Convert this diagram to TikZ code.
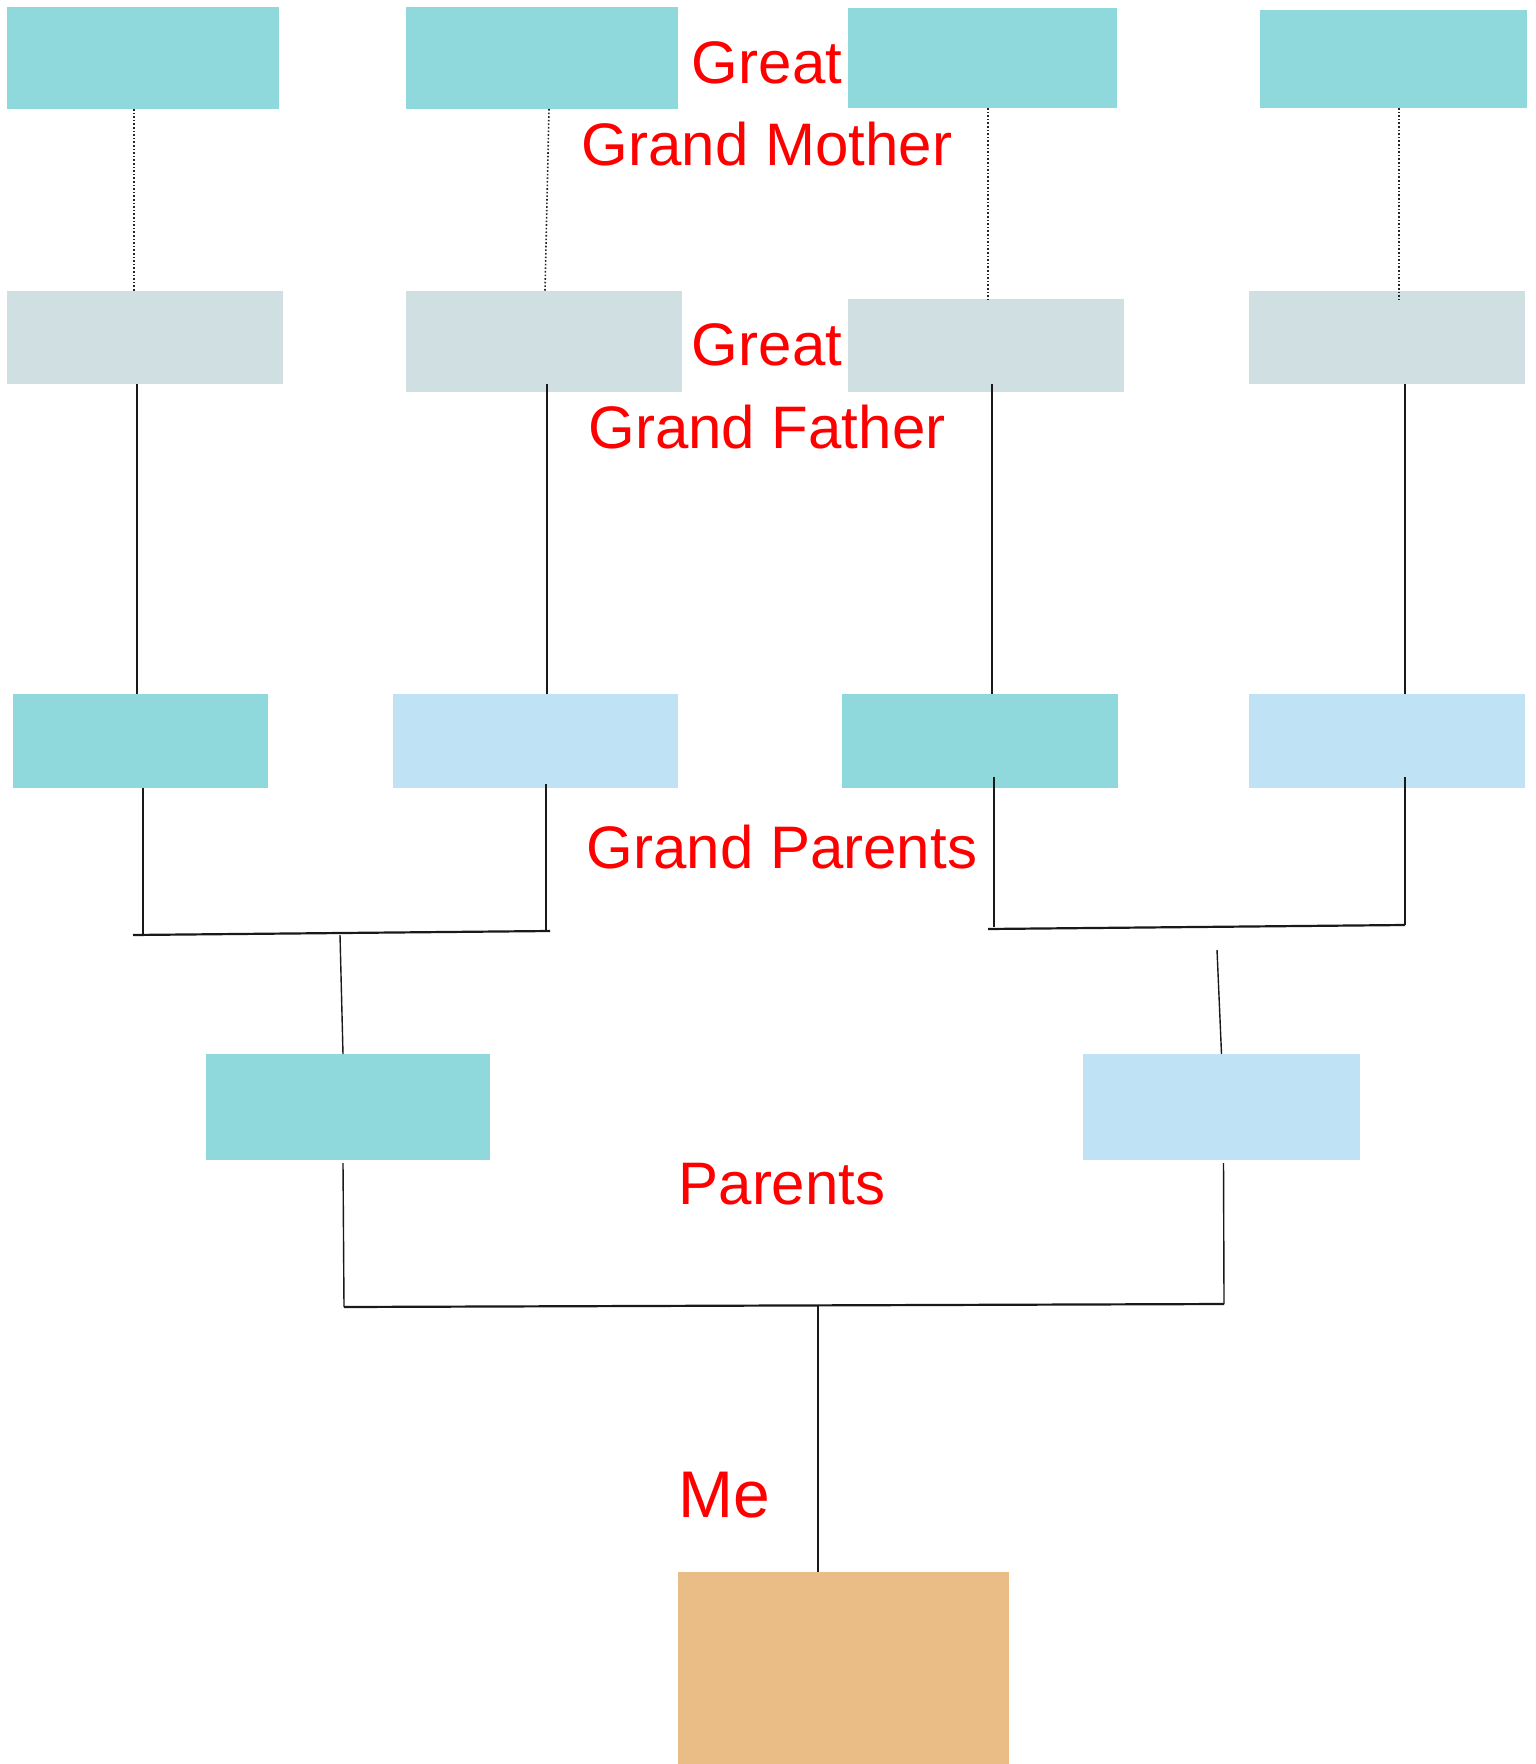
\documentclass[tikz,border=0pt]{standalone}
\usepackage{fontspec}
\setmainfont{Liberation Sans}
\definecolor{aquafill}{RGB}{143,217,220}
\definecolor{mistfill}{RGB}{208,223,226}
\definecolor{skyfill}{RGB}{191,227,245}
\definecolor{sandfill}{RGB}{234,188,134}
\definecolor{labelred}{RGB}{255,0,0}
\begin{document}
\begin{tikzpicture}[x=0.5pt,y=-0.5pt,
				box/.style={rectangle, draw=none, inner sep=0, outer sep=0},
				aquabox/.style={box, fill=aquafill},
				mistbox/.style={box, fill=mistfill},
				skybox/.style={box, fill=skyfill},
				sandbox/.style={box, fill=sandfill},
				lbl/.style={anchor=base, inner sep=0, text=labelred, font=\fontsize{30}{36}\selectfont},
				link/.style={line width=0.7pt, black!90},
				bar/.style={line width=1.1pt, black!90},
				faint/.style={densely dotted, line width=0.8pt, black!85}]
				
				\useasboundingbox (0,0) rectangle (1535,1764);
				
				\begin{scope}
				\node [aquabox, minimum width=136pt, minimum height=51pt] (gm1) at (143,58) {};
				\node [aquabox, minimum width=136pt, minimum height=51pt] (gm2) at (542,58) {};
				\node [aquabox, minimum width=134.5pt, minimum height=50pt] (gm3) at (982.5,58) {};
				\node [aquabox, minimum width=133.5pt, minimum height=49pt] (gm4) at (1393.5,59) {};
				
				\node [mistbox, minimum width=138pt, minimum height=46.5pt] (gf1) at (145,337.5) {};
				\node [mistbox, minimum width=138pt, minimum height=50.5pt] (gf2) at (544,341.5) {};
				\node [mistbox, minimum width=138pt, minimum height=46.5pt] (gf3) at (986,345.5) {};
				\node [mistbox, minimum width=138pt, minimum height=46.5pt] (gf4) at (1387,337.5) {};
				
				\node [aquabox, minimum width=127.5pt, minimum height=47pt] (gp1) at (140.5,741) {};
				\node [skybox, minimum width=142.5pt, minimum height=47pt] (gp2) at (535.5,741) {};
				\node [aquabox, minimum width=138pt, minimum height=47pt] (gp3) at (980,741) {};
				\node [skybox, minimum width=138pt, minimum height=47pt] (gp4) at (1387,741) {};
				
				\node [aquabox, minimum width=142pt, minimum height=53pt] (p1) at (348,1107) {};
				\node [skybox, minimum width=138.5pt, minimum height=53pt] (p2) at (1221.5,1107) {};
				
				\node [sandbox, minimum width=165.5pt, minimum height=96pt] (me) at (843.5,1668) {};
				\end{scope}
				
				\node [lbl] (t1) at (767,84) {Great};
				\node [lbl] (t2) at (767,166) {Grand Mother};
				\node [lbl] (t3) at (767,366) {Great};
				\node [lbl] (t4) at (767,449) {Grand Father};
				\node [lbl] (t5) at (782,868) {Grand Parents};
				\node [lbl] (t6) at (782,1204) {Parents};
				\node [lbl, font=\fontsize{33}{40}\selectfont] (t7) at (724,1517) {Me};
				
				\coordinate (la) at (133,935);
				\coordinate (lb) at (550,931);
				\coordinate (l1) at (143,935);
				\coordinate (l2) at (546,931);
				\coordinate (lm) at (340,935);
				\coordinate (ra) at (988,929);
				\coordinate (rb) at (1405,925);
				\coordinate (r1) at (994,927);
				\coordinate (r2) at (1405,925);
				\coordinate (rm) at (1217,950);
				\coordinate (b1) at (344,1307);
				\coordinate (b2) at (1224,1304);
				\coordinate (bm) at (818,1305);
				
				\begin{scope}[faint]
				\draw ([xshift=-4.5pt]gm1.south) -- ([xshift=-5.5pt]gf1.north);
				\draw ([xshift=3.5pt]gm2.south) -- ([xshift=0.5pt]gf2.north);
				\draw ([xshift=2.75pt]gm3.south) -- ([xshift=1pt]gf3.north);
				\draw ([xshift=2.75pt]gm4.south) -- ([xshift=6pt,yshift=-4pt]gf4.north);
				\end{scope}
				
				\begin{scope}[link]
				\draw ([xshift=-4pt]gf1.south) -- ([xshift=-1.75pt]gp1.north);
				\draw ([xshift=1.5pt,yshift=4pt]gf2.south) -- ([xshift=5.75pt]gp2.north);
				\draw ([xshift=3pt,yshift=4pt]gf3.south) -- ([xshift=6pt]gp3.north);
				\draw ([xshift=9pt]gf4.south) -- ([xshift=9pt]gp4.north);
				
				\draw ([xshift=1.25pt]gp1.south) -- (l1);
				\draw ([xshift=5.25pt,yshift=2pt]gp2.south) -- (l2);
				\draw (lm) -- ([xshift=-2.5pt]p1.north);
				\draw ([xshift=7pt,yshift=5.5pt]gp3.south) -- (r1);
				\draw ([xshift=9pt,yshift=5.5pt]gp4.south) -- (r2);
				\draw (rm) -- (p2.north);
				
				\draw ([xshift=-2.5pt,yshift=-1.5pt]p1.south) -- (b1);
				\draw ([xshift=1pt,yshift=-1.5pt]p2.south) -- (b2);
				\draw (bm) -- ([xshift=-12.75pt]me.north);
				\end{scope}
				
				\begin{scope}[bar]
				\draw (la) -- (lb);
				\draw (ra) -- (rb);
				\draw (b1) -- (b2);
				\end{scope}
				\end{tikzpicture}
\end{document}
